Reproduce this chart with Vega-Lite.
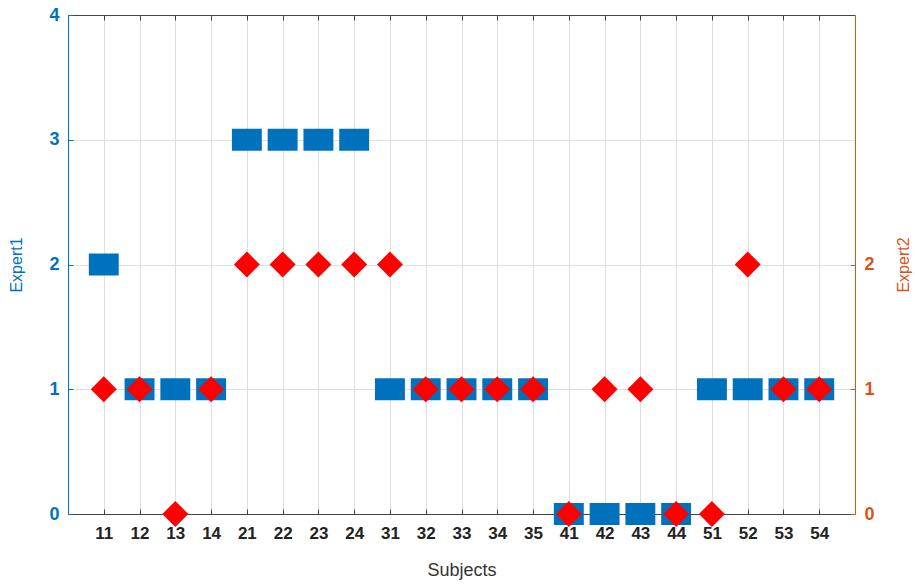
{
  "$schema": "https://vega.github.io/schema/vega-lite/v6.json",
  "autosize": {"type": "none"},
  "padding": {"left": 68, "top": 15, "right": 60, "bottom": 71},
  "width": 787,
  "height": 499,
  "background": "white",
  "config": {
    "view": {"stroke": null},
    "axis": {"labelFont": "Liberation Sans", "titleFont": "Liberation Sans", "gridColor": "#dedede", "gridWidth": 1}
  },
  "data": {
    "values": [
      {"subject": "11", "expert1": 2, "expert2": 1},
      {"subject": "12", "expert1": 1, "expert2": 1},
      {"subject": "13", "expert1": 1, "expert2": 0},
      {"subject": "14", "expert1": 1, "expert2": 1},
      {"subject": "21", "expert1": 3, "expert2": 2},
      {"subject": "22", "expert1": 3, "expert2": 2},
      {"subject": "23", "expert1": 3, "expert2": 2},
      {"subject": "24", "expert1": 3, "expert2": 2},
      {"subject": "31", "expert1": 1, "expert2": 2},
      {"subject": "32", "expert1": 1, "expert2": 1},
      {"subject": "33", "expert1": 1, "expert2": 1},
      {"subject": "34", "expert1": 1, "expert2": 1},
      {"subject": "35", "expert1": 1, "expert2": 1},
      {"subject": "41", "expert1": 0, "expert2": 0},
      {"subject": "42", "expert1": 0, "expert2": 1},
      {"subject": "43", "expert1": 0, "expert2": 1},
      {"subject": "44", "expert1": 0, "expert2": 0},
      {"subject": "51", "expert1": 1, "expert2": 0},
      {"subject": "52", "expert1": 1, "expert2": 2},
      {"subject": "53", "expert1": 1, "expert2": 1},
      {"subject": "54", "expert1": 1, "expert2": 1}
    ]
  },
  "layer": [
    {
      "mark": {"type": "point", "filled": true, "opacity": 1, "color": "#0072BD", "shape": "M-1.36,-1H1.36V1H-1.36Z", "size": 484},
      "encoding": {
        "x": {
          "field": "subject", "type": "ordinal", "sort": null,
          "scale": {"type": "point", "padding": 1},
          "axis": {"title": "Subjects", "titleFontSize": 18, "titleFontWeight": "normal", "titleColor": "#333", "titlePadding": 20,
                   "labelFontSize": 17, "labelFontWeight": "bold", "labelColor": "#222", "labelAngle": 0, "labelPadding": 16,
                   "domainColor": "#444", "tickColor": "#444", "tickSize": -5, "grid": true}
        },
        "y": {
          "field": "expert1", "type": "quantitative",
          "scale": {"domain": [0, 4], "nice": false},
          "axis": {"title": "Expert1", "titleFontSize": 16, "titleFontWeight": "normal", "titleColor": "#0072BD", "titlePadding": 24,
                   "values": [0, 1, 2, 3, 4], "labelFontSize": 18, "labelFontWeight": "bold", "labelColor": "#0072BD", "labelPadding": 14,
                   "domainColor": "#0072BD", "tickColor": "#0072BD", "tickSize": -5, "grid": true}
        }
      }
    },
    {
      "mark": {"type": "point", "filled": true, "opacity": 1, "color": "#FF0000", "shape": "M-1,0L0,-1L1,0L0,1Z", "size": 676},
      "encoding": {
        "x": {
          "field": "subject", "type": "ordinal", "sort": null,
          "axis": {"orient": "top", "title": null, "labels": false, "domainColor": "#444", "tickColor": "#444", "tickSize": -5, "grid": false}
        },
        "y": {
          "field": "expert2", "type": "quantitative",
          "scale": {"domain": [0, 4], "nice": false},
          "axis": {"orient": "right", "title": "Expert2", "titleAngle": 270, "titleFontSize": 16, "titleFontWeight": "normal", "titleColor": "#D95319", "titlePadding": 37,
                   "values": [0, 1, 2], "labelFontSize": 18, "labelFontWeight": "bold", "labelColor": "#D95319", "labelPadding": 14,
                   "domainColor": "#D95319", "tickColor": "#D95319", "tickSize": -5, "grid": false}
        }
      }
    }
  ],
  "resolve": {"scale": {"y": "independent"}, "axis": {"x": "independent"}}
}
